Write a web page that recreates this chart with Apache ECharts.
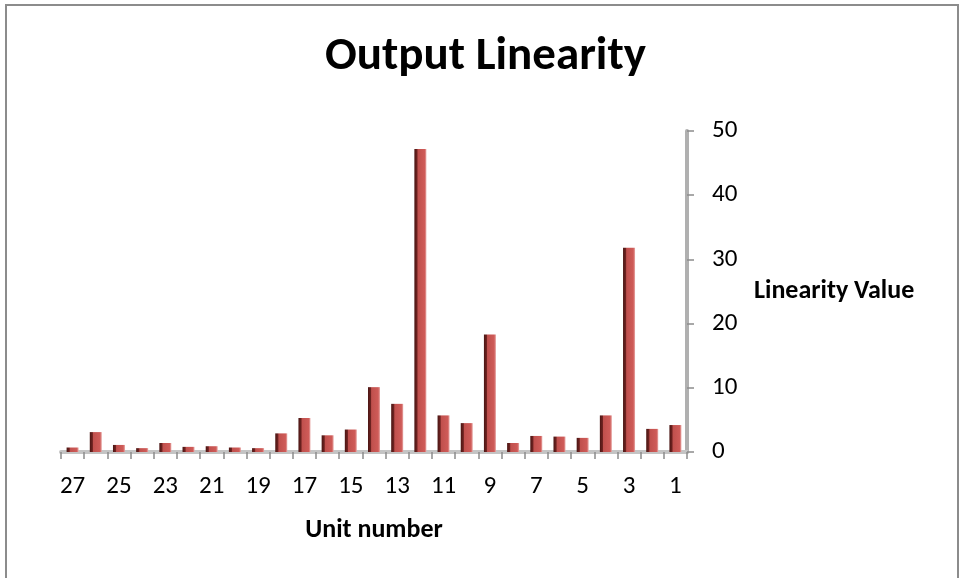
<!DOCTYPE html>
<html>
<head>
<meta charset="utf-8">
<script src="https://cdn.jsdelivr.net/npm/echarts@6/dist/echarts.min.js"></script>
<style>
html,body{margin:0;padding:0;background:#fff;}
#chart{width:960px;height:578px;}
</style>
</head>
<body>
<div id="chart"></div>
<script>
const titleText = 'Output Linearity';
const xAxisTitle = 'Unit number';
const yAxisTitle = 'Linearity Value';
const units = ['27','26','25','24','23','22','21','20','19','18','17','16','15','14','13','12','11','10','9','8','7','6','5','4','3','2','1'];
const linearity = [0.7,3.1,1.1,0.6,1.4,0.8,0.9,0.7,0.6,2.9,5.3,2.6,3.5,10.1,7.5,47.2,5.7,4.5,18.3,1.4,2.5,2.4,2.2,5.7,31.8,3.6,4.2];
const yTicks = {min:0, max:50, interval:10};

const FONT = 'Carlito, Calibri, Lato, "Open Sans", sans-serif';
const chart = echarts.init(document.getElementById('chart'), null, {renderer:'canvas'});
chart.setOption({
  backgroundColor:'#ffffff',
  animation:false,
  textStyle:{fontFamily:FONT},
  graphic:[{
    type:'rect', shape:{x:6, y:5, width:952, height:580},
    style:{fill:'none', stroke:'#8c8c8c', lineWidth:2}, silent:true
  }],
  title:{
    text:titleText, left:320, top:29,
    textStyle:{fontFamily:FONT, fontWeight:'bold', fontSize:47, color:'#000'}
  },
  grid:{left:61, right:273, top:131, bottom:126, containLabel:false},
  xAxis:{
    type:'category', data:units,
    name:xAxisTitle, nameLocation:'middle', nameGap:65,
    nameTextStyle:{fontFamily:FONT, fontWeight:'bold', fontSize:26, color:'#000'},
    axisLine:{show:true, lineStyle:{color:'#c4c4c4', width:4}},
    axisTick:{show:true, interval:0, length:7, lineStyle:{color:'#8c8c8c', width:1.5}},
    axisLabel:{interval:1, margin:22, fontSize:25, color:'#000', fontFamily:FONT},
    splitLine:{show:false}
  },
  yAxis:{
    type:'value', position:'right', min:yTicks.min, max:yTicks.max, interval:yTicks.interval,
    name:yAxisTitle, nameLocation:'middle', nameRotate:0, nameGap:67,
    nameTextStyle:{fontFamily:FONT, fontWeight:'bold', fontSize:26, color:'#000', align:'left'},
    axisLine:{show:true, lineStyle:{color:'#b0b0b0', width:4}},
    axisTick:{show:true, length:7, lineStyle:{color:'#8c8c8c', width:1.5}},
    axisLabel:{margin:25, fontSize:25, color:'#000', fontFamily:FONT},
    splitLine:{show:false}
  },
  series:[{
    type:'bar', data:linearity, barWidth:12,
    itemStyle:{
      color:new echarts.graphic.LinearGradient(0,0,1,0,[
        {offset:0, color:'#4a1614'},
        {offset:0.22, color:'#6e2220'},
        {offset:0.3, color:'#c0504d'},
        {offset:0.85, color:'#cf5b58'},
        {offset:1, color:'#e8a9a7'}
      ])
    }
  }]
});
</script>
</body>
</html>
